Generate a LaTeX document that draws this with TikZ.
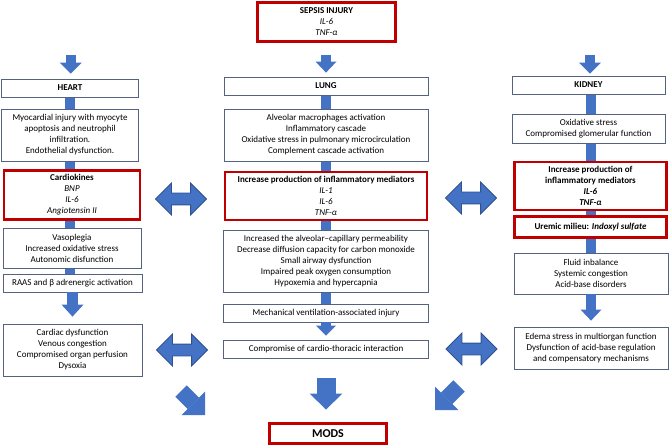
\documentclass[tikz,border=0pt]{standalone}
\usepackage{fontspec}
\setmainfont{Carlito}
\usepackage{tikz}
\usetikzlibrary{arrows.meta, shapes.arrows, backgrounds}

\definecolor{boxline}{RGB}{84,98,128}
\definecolor{sepred}{RGB}{192,0,0}
\definecolor{arrowblue}{RGB}{68,114,196}
\definecolor{arrowedge}{RGB}{47,82,143}

\begin{document}
\begin{tikzpicture}[x=1pt, y=-1pt,
    every node/.style={font=\fontsize{9}{11}\selectfont, align=center, inner sep=0pt},
    box/.style={draw=boxline, line width=0.8pt, fill=white},
    redbox/.style={draw=sepred, line width=2.6pt, fill=white},
    bar/.style={arrowblue, line width=10pt},
    fat/.style n args={3}{arrowblue, line width=#1, -{Triangle[width=#2, length=#3, line width=0pt]}},
    twoway/.style={double arrow, draw=arrowedge, fill=arrowblue, line width=0.8pt,
        inner ysep=5.5pt, minimum height=51pt, double arrow head extend=10pt}]
    \useasboundingbox (0,0) rectangle (669,446);

    % top
    \node[redbox, minimum width=138pt, minimum height=39pt] (sepsis) at (326.5,22)
        {\textbf{SEPSIS INJURY}\\\textit{IL-6}\\\textit{TNF-α}};

    % heart column
    \node[box, minimum width=137pt, minimum height=18pt] (heartT) at (70,88) {\textbf{HEART}};
    \node[box, minimum width=137pt, minimum height=52pt] (heart1) at (70,135)
        {Myocardial injury with myocyte\\apoptosis and neutrophil\\infiltration.\\Endothelial dysfunction.};
    \node[redbox, minimum width=136pt, minimum height=49pt] (cardio) at (72,195)
        {\textbf{Cardiokines}\\\textit{BNP}\\\textit{IL-6}\\\textit{Angiotensin II}};
    \node[box, minimum width=138pt, minimum height=40pt] (heart2) at (72,248)
        {Vasoplegia\\Increased oxidative stress\\Autonomic disfunction};
    \node[box, minimum width=139pt, minimum height=18pt] (raas) at (72.5,283)
        {RAAS and β adrenergic activation};
    \node[box, minimum width=139pt, minimum height=52pt] (heart3) at (72.5,350)
        {Cardiac dysfunction\\Venous congestion\\Compromised organ perfusion\\Dysoxia};

    % lung column
    \node[box, minimum width=204pt, minimum height=18pt] (lungT) at (326,86) {\textbf{LUNG}};
    \node[box, minimum width=204pt, minimum height=52pt] (lung1) at (326,135)
        {Alveolar macrophages activation\\Inflammatory cascade\\Oxidative stress in pulmonary microcirculation\\Complement cascade activation};
    \node[redbox, minimum width=202pt, minimum height=48pt] (lungR) at (326,196)
        {\textbf{Increase production of inflammatory mediators}\\\textit{IL-1}\\\textit{IL-6}\\\textit{TNF-α}};
    \node[box, minimum width=205pt, minimum height=62pt] (lung2) at (326,261)
        {Increased the alveolar–capillary permeability\\Decrease diffusion capacity for carbon monoxide\\Small airway dysfunction\\Impaired peak oxygen consumption\\Hypoxemia and hypercapnia};
    \node[box, minimum width=205pt, minimum height=18pt] (mech) at (326,313)
        {Mechanical ventilation-associated injury};
    \node[box, minimum width=205pt, minimum height=18pt] (compr) at (326,349)
        {Compromise of cardio-thoracic interaction};
    \node[redbox, minimum width=117pt, minimum height=20pt, font=\fontsize{12}{14}\selectfont] (mods) at (328,433.5)
        {\textbf{MODS}};

    % kidney column
    \node[box, minimum width=153pt, minimum height=18pt] (kidT) at (588.5,85) {\textbf{KIDNEY}};
    \node[box, minimum width=153pt, minimum height=29pt] (kid1) at (588.5,128.5)
        {Oxidative stress\\Compromised glomerular function};
    \node[redbox, minimum width=152pt, minimum height=48pt] (kidR) at (590.5,186)
        {\textbf{Increase production of}\\\textbf{inflammatory mediators}\\\textbf{\textit{IL-6}}\\\textbf{\textit{TNF-α}}};
    \node[redbox, minimum width=152pt, minimum height=21pt] (urem) at (590.5,227)
        {\textbf{Uremic milieu: \textit{Indoxyl sulfate}}};
    \node[box, minimum width=154pt, minimum height=41pt] (kid2) at (591,273.5)
        {Fluid inbalance\\Systemic congestion\\Acid-base disorders};
    \node[box, minimum width=154pt, minimum height=42pt] (kid3) at (591,348)
        {Edema stress in multiorgan function\\Dysfunction of acid-base regulation\\and compensatory mechanisms};

    % columns behind the boxes
    \begin{scope}[on background layer]
        \draw[bar] (heartT.center) -- (heartT.center |- raas.center);
        \draw[bar] (lungT.center) -- (lungT.center |- mech.center);
        \draw[bar] (kidR.center |- kidT.center) -- (kidR.center |- kid2.center);
    \end{scope}

    % down arrows
    \coordinate (hin) at (70.7,55);
    \coordinate (kin) at (590,55);
    \draw[fat={10pt}{22pt}{11pt}, shorten >=5pt] (hin) -- (hin |- heartT.north);
    \draw[fat={10pt}{21pt}{11pt}, shorten <=12pt, shorten >=4pt] (sepsis.south -| lungT.north) -- (lungT.north);
    \draw[fat={10pt}{22pt}{11pt}, shorten >=2pt] (kin) -- (kin |- kidT.north);
    \draw[fat={11pt}{22pt}{12pt}, shorten >=7pt] (raas.south) -- (heart3.north);
    \draw[fat={10pt}{20pt}{10pt}, shorten >=4pt] (mech.south) -- (compr.north);
    \draw[fat={10pt}{21pt}{11pt}, shorten >=6pt] (kid2.south) -- (kid3.north);
    \draw[fat={19pt}{33pt}{16pt}, shorten <=20pt, shorten >=12.7pt] (compr.south) -- (compr.south |- mods.north);

    % towards MODS
    \coordinate (dl0) at (181,391);
    \coordinate (dl1) at (205,415);
    \coordinate (dr0) at (459,386);
    \coordinate (dr1) at (435,410);
    \draw[fat={16pt}{33pt}{16.5pt}] (dl0) -- (dl1);
    \draw[fat={16pt}{33pt}{16.5pt}] (dr0) -- (dr1);

    % two-way arrows
    \node[twoway] (lh1) at (181,199) {};
    \node[twoway] (lh2) at (182,350) {};
    \node[twoway] (lk1) at (471,198) {};
    \node[twoway] (lk2) at (471.5,349) {};
\end{tikzpicture}
\end{document}
